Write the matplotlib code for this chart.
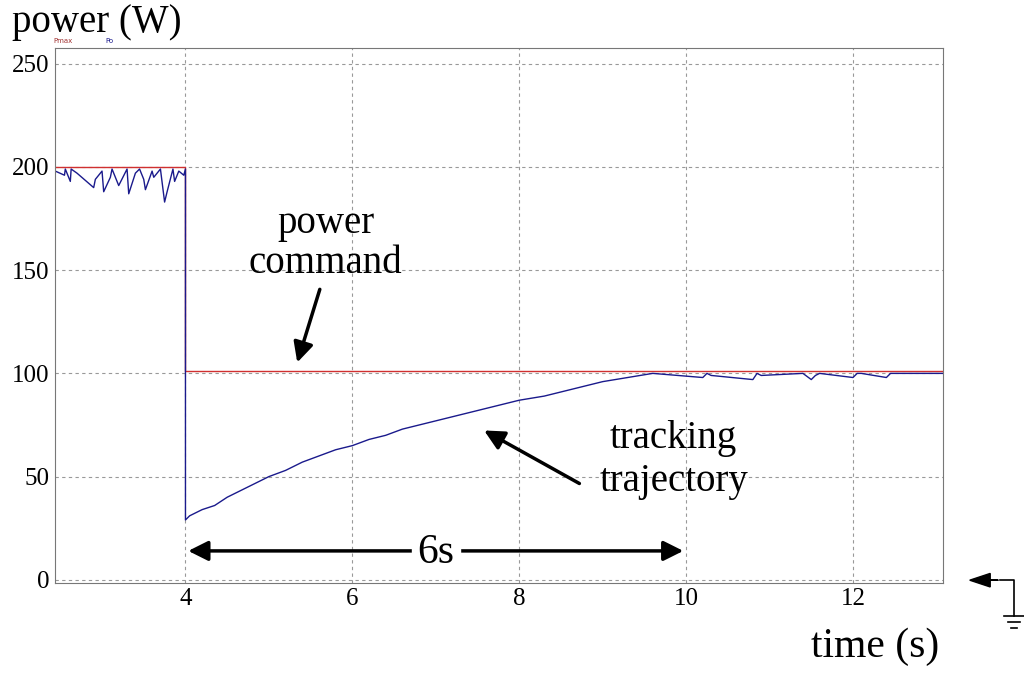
import matplotlib
matplotlib.use("Agg")
from matplotlib import pyplot as plt

plt.rcParams['font.family'] = ['Liberation Serif', 'DejaVu Serif']

# power command (Pmax)
cmd_t = [2.44, 4.0, 4.0, 13.08]
cmd_p = [200, 200, 101, 101]

# measured output power (Po)
po_t = [2.44, 2.55, 2.56, 2.62, 2.63, 2.7, 2.9, 2.92, 3.0, 3.02, 3.1, 3.12, 3.2, 3.3, 3.32, 3.4, 3.45,
        3.5, 3.52, 3.6, 3.62, 3.7, 3.75, 3.78, 3.85, 3.87, 3.92, 3.98, 4.0,
        4.0, 4.05, 4.2, 4.35, 4.5, 4.65, 4.8, 5.0, 5.2, 5.4, 5.6, 5.8, 6.0, 6.2, 6.4, 6.6, 6.8,
        7.0, 7.3, 7.6, 8.0, 8.3, 8.6, 9.0, 9.3, 9.6, 10.2, 10.25, 10.3, 10.8, 10.85, 10.9,
        11.4, 11.5, 11.55, 11.6, 12.0, 12.05, 12.1, 12.4, 12.45, 13.08]
po_p = [198, 196, 199, 193, 199, 197, 190, 194, 198, 188, 195, 199, 191, 199, 187, 197, 199,
        194, 189, 198, 195, 199, 183, 188, 199, 193, 198, 196, 199,
        29, 31, 34, 36, 40, 43, 46, 50, 53, 57, 60, 63, 65, 68, 70, 73, 75,
        77, 80, 83, 87, 89, 92, 96, 98, 100, 98, 100, 99, 97, 100, 99,
        100, 97, 99, 100, 98, 100, 100, 98, 100, 100]

fig = plt.figure(figsize=(10.24, 6.77), dpi=100)
ax = fig.add_axes([0.054, 0.139, 0.867, 0.79])
ax.plot(cmd_t, cmd_p, color='#d03030', lw=1.0)
ax.plot(po_t, po_p, color='#1a1a8c', lw=1.0)

ax.set_xlim(2.44, 13.08)
ax.set_ylim(-1.5, 257.6)
ax.set_xticks([4, 6, 8, 10, 12])
ax.set_yticks([0, 50, 100, 150, 200, 250])
ax.grid(True, color='#999999', ls=(0, (3, 3)), lw=0.8)
for s in ax.spines.values():
    s.set_color('#777777')
ax.tick_params(length=0, labelsize=18, pad=4)

fig.text(0.012, 0.952, 'power (W)', fontsize=28)
fig.text(0.052, 0.936, 'Pmax', fontsize=5, color='#a03030', family='DejaVu Sans')
fig.text(0.103, 0.936, 'Po', fontsize=5, color='#1a1a8c', family='DejaVu Sans')
fig.text(0.792, 0.03, 'time (s)', fontsize=30)

ax.text(5.68, 163, 'power\ncommand', fontsize=28, ha='center', va='center', linespacing=1.1)
ax.annotate('', xy=(5.33, 104), xytext=(5.62, 142),
            arrowprops=dict(arrowstyle='-|>', color='black', lw=2.5, mutation_scale=30))
ax.text(9.85, 58, 'tracking\ntrajectory', fontsize=28, ha='center', va='center', linespacing=1.2)
ax.annotate('', xy=(7.55, 73), xytext=(8.75, 46),
            arrowprops=dict(arrowstyle='-|>', color='black', lw=2.5, mutation_scale=30))
ax.annotate('', xy=(4.0, 14), xytext=(7.0, 14),
            arrowprops=dict(arrowstyle='-|>', color='black', lw=2.5, mutation_scale=30))
ax.annotate('', xy=(10.0, 14), xytext=(7.0, 14),
            arrowprops=dict(arrowstyle='-|>', color='black', lw=2.5, mutation_scale=30))
ax.text(7.0, 13, '6s', fontsize=30, ha='center', va='center', backgroundcolor='white')

# ground symbol at right
fig.add_artist(plt.Line2D([0.977, 0.99, 0.99], [0.143, 0.143, 0.09], color='black', lw=1.2))
fig.add_artist(plt.Line2D([0.98, 1.0], [0.09, 0.09], color='black', lw=1.2))
fig.add_artist(plt.Line2D([0.984, 0.996], [0.081, 0.081], color='black', lw=1.2))
fig.add_artist(plt.Line2D([0.987, 0.993], [0.072, 0.072], color='black', lw=1.2))
fig.add_artist(matplotlib.patches.FancyArrow(0.975, 0.143, -0.008, 0, width=0.0, head_width=0.02,
                                             head_length=0.02, color='black'))

fig.savefig('out.png', dpi=100)
